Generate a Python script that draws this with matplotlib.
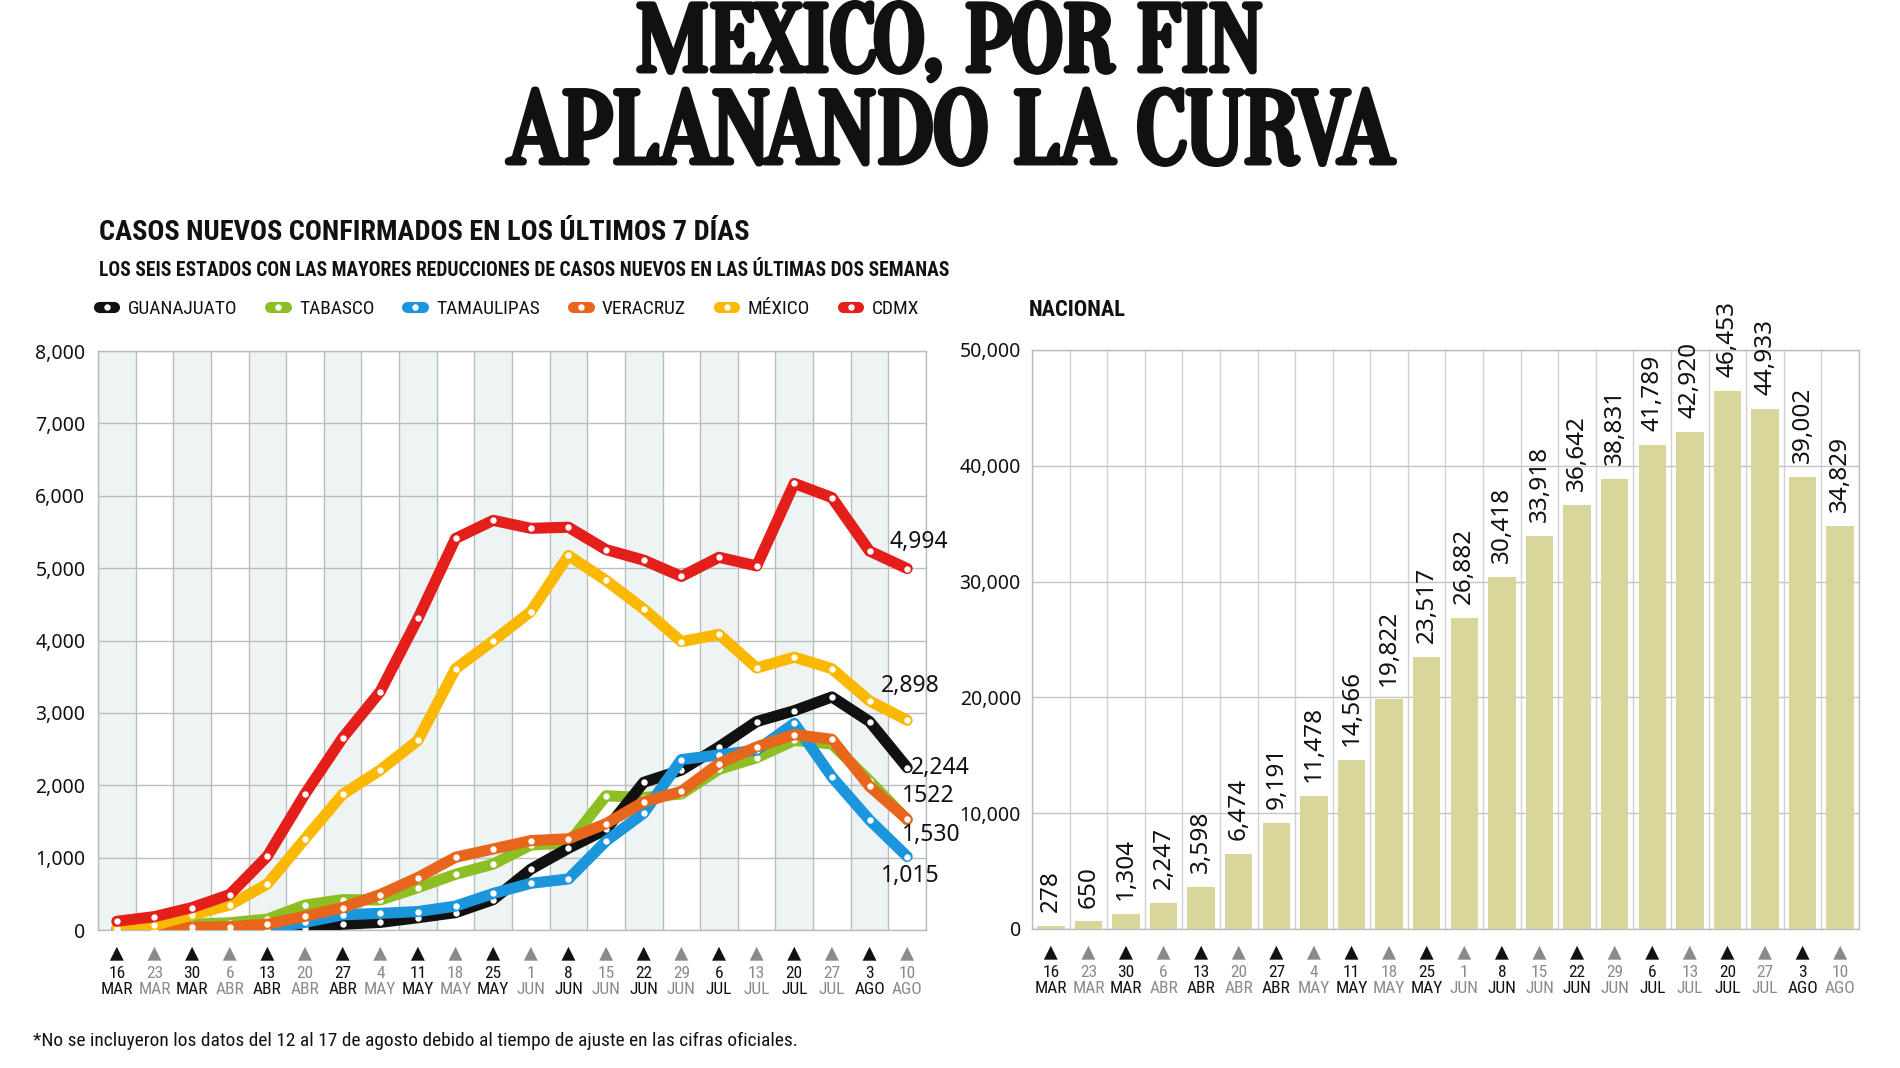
import os
import numpy as np
import matplotlib
matplotlib.use('Agg')
import matplotlib.pyplot as plt
import matplotlib.patheffects as pe
from matplotlib import font_manager as fm
from matplotlib.lines import Line2D
from matplotlib.transforms import blended_transform_factory

# ---------------- datos ----------------
dias = [16, 23, 30, 6, 13, 20, 27, 4, 11, 18, 25, 1, 8, 15, 22, 29, 6, 13, 20, 27, 3, 10]
meses = ['MAR', 'MAR', 'MAR', 'ABR', 'ABR', 'ABR', 'ABR', 'MAY', 'MAY', 'MAY', 'MAY',
         'JUN', 'JUN', 'JUN', 'JUN', 'JUN', 'JUL', 'JUL', 'JUL', 'JUL', 'AGO', 'AGO']

guanajuato = [0, 0, 0, 5, 10, 30, 80, 105, 170, 240, 420, 840, 1130, 1390, 2040, 2210,
              2530, 2880, 3030, 3220, 2880, 2244]
tabasco = [5, 15, 80, 100, 150, 345, 420, 415, 585, 770, 910, 1175, 1200, 1855, 1830, 1880,
           2220, 2380, 2620, 2570, 2060, 1522]
tamaulipas = [0, 0, 5, 10, 15, 105, 210, 230, 255, 330, 505, 645, 705, 1230, 1615, 2355,
              2420, 2485, 2855, 2115, 1520, 1015]
veracruz = [10, 25, 40, 45, 80, 190, 310, 490, 725, 1005, 1120, 1235, 1260, 1470, 1770, 1915,
            2300, 2530, 2700, 2635, 1985, 1530]
mexico = [30, 65, 210, 345, 635, 1260, 1875, 2210, 2620, 3610, 3995, 4400, 5175, 4830, 4435,
          3985, 4085, 3620, 3770, 3610, 3165, 2898]
cdmx = [120, 185, 310, 490, 1020, 1880, 2655, 3295, 4305, 5410, 5660, 5550, 5565, 5255, 5110,
        4885, 5150, 5030, 6170, 5975, 5235, 4994]

# etiqueta final de cada estado (tal cual aparece)
etiquetas_fin = {'GUANAJUATO': '2,244', 'TABASCO': '1522', 'TAMAULIPAS': '1,015',
                 'VERACRUZ': '1,530', 'MÉXICO': '2,898', 'CDMX': '4,994'}

nacional = [278, 650, 1304, 2247, 3598, 6474, 9191, 11478, 14566, 19822, 23517, 26882,
            30418, 33918, 36642, 38831, 41789, 42920, 46453, 44933, 39002, 34829]

# ---------------- fuentes ----------------
FILES = {}
for f in fm.fontManager.ttflist:
    FILES[os.path.splitext(os.path.basename(f.fname))[0].lower()] = f.fname


def font(names, **fallback):
    for n in names:
        if n.lower() in FILES:
            return fm.FontProperties(fname=FILES[n.lower()])
    return fm.FontProperties(**fallback)


TITLE = font(['Oranienbaum-Regular', 'StintUltraCondensed-Regular',
              'DejaVuSerifCondensed-Bold', 'LiberationSerif-Bold'],
             family='DejaVu Serif', weight='bold')
HEAD = font(['RobotoCondensed-ExtraBold', 'RobotoCondensed-Bold', 'NotoSans-CondensedBold',
             'DejaVuSansCondensed-Bold', 'LiberationSansNarrow-Bold'],
            family='DejaVu Sans', weight='bold')
COND = font(['RobotoCondensed-Regular', 'NotoSans-Condensed', 'DejaVuSansCondensed',
             'LiberationSansNarrow-Regular'], family='DejaVu Sans')
NUM = fm.FontProperties(family=['Noto Sans', 'DejaVu Sans'])

W, H = 1900, 1068
fig = plt.figure(figsize=(W / 100, H / 100), dpi=100)
fig.patch.set_facecolor('white')


def fx(px):
    return px / W


def fy(px):
    return 1 - px / H


GRID = '#b9bdc0'
NEGRO = '#111111'
GRIS = '#8a8a8a'
n = len(dias)
x = np.arange(n)
labels = [f'{d}\n{m}' for d, m in zip(dias, meses)]


def eje_fechas(ax):
    ax.set_xlim(-0.5, n - 0.5)
    ax.set_xticks(x)
    ax.set_xticklabels(labels, fontproperties=COND, linespacing=1.05)
    ax.set_xticks(np.arange(-0.5, n, 0.5), minor=True)
    ax.tick_params(axis='x', which='both', length=0, pad=26)
    for i, t in enumerate(ax.get_xticklabels()):
        t.set_color(NEGRO if i % 2 == 0 else GRIS)
        t.set_fontsize(12.5)
    tr = blended_transform_factory(ax.transData, ax.transAxes)
    cols = [NEGRO if i % 2 == 0 else GRIS for i in x]
    ax.scatter(x, np.full(n, -0.041), marker='^', s=100, c=cols, transform=tr,
               clip_on=False, linewidths=0)
    ax.grid(which='minor', axis='x', color=GRID, lw=1)
    ax.grid(which='major', axis='y', color=GRID, lw=1)
    ax.set_axisbelow(True)
    for s in ax.spines.values():
        s.set_color(GRID)
        s.set_linewidth(1)
    ax.tick_params(axis='y', length=0, colors=NEGRO)
    for t in ax.get_yticklabels():
        t.set_fontproperties(NUM)
        t.set_fontsize(14)


# ---------------- grafica izquierda ----------------
axl = fig.add_axes([fx(98), fy(930), fx(926 - 98), (930 - 351) / H])
for i in range(0, n, 2):
    axl.axvspan(i - 0.5, i + 0.5, color='#eef3f4', lw=0, zorder=0)

series = [('TABASCO', tabasco, '#8dbf25'), ('GUANAJUATO', guanajuato, '#111111'),
          ('TAMAULIPAS', tamaulipas, '#1b96dc'), ('VERACRUZ', veracruz, '#e8661b'),
          ('MÉXICO', mexico, '#fbb800'), ('CDMX', cdmx, '#e31e1b')]
colores = {k: c for k, v, c in series}
for k, v, c in series:
    axl.plot(x, v, color=c, lw=8, solid_capstyle='round', solid_joinstyle='round',
             marker='o', ms=4.6, mfc='white', mec='white', mew=0, zorder=3)

# desplazamiento (puntos) de cada etiqueta final respecto al último punto
offs = {'CDMX': (-13, 19), 'MÉXICO': (-19, 25), 'GUANAJUATO': (3, 0),
        'TABASCO': (-4, 17), 'VERACRUZ': (-4, -11), 'TAMAULIPAS': (-19, -14)}
for k, v, c in series:
    axl.annotate(etiquetas_fin[k], (x[-1], v[-1]), xytext=offs[k], textcoords='offset points',
                 ha='left', va='center', fontproperties=NUM, fontsize=16.5, color=NEGRO,
                 zorder=5)

axl.set_ylim(0, 8000)
axl.set_yticks(range(0, 8001, 1000))
axl.set_yticklabels([f'{v:,}' for v in range(0, 8001, 1000)])
axl.tick_params(axis='y', pad=9)
eje_fechas(axl)

# ---------------- grafica derecha ----------------
axr = fig.add_axes([fx(1032), fy(929), fx(1859 - 1032), (929 - 350) / H])
axr.bar(x, nacional, width=0.73, color='#d8d69b', zorder=2)
for i, v in enumerate(nacional):
    axr.annotate(f'{v:,}', (i, v), xytext=(0, 10), textcoords='offset points', rotation=90,
                 ha='center', va='bottom', fontproperties=NUM, fontsize=17.5, color=NEGRO)
axr.set_ylim(0, 50000)
axr.set_yticks(range(0, 50001, 10000))
axr.set_yticklabels([f'{v:,}' for v in range(0, 50001, 10000)])
axr.tick_params(axis='y', pad=8)
eje_fechas(axr)
axr.grid(which='minor', axis='x', color='#d0d0d0', lw=1)
axr.grid(which='major', axis='y', color='#c4c4c4', lw=1)

# ---------------- textos ----------------
grueso = [pe.withStroke(linewidth=5, foreground=NEGRO)]
t1 = fig.text(0.5, fy(70), 'MEXICO, POR FIN', ha='center', va='baseline',
              fontproperties=TITLE, fontsize=60, color=NEGRO, path_effects=grueso)
t2 = fig.text(0.5, fy(162), 'APLANANDO LA CURVA', ha='center', va='baseline',
              fontproperties=TITLE, fontsize=60, color=NEGRO, path_effects=grueso)
h1 = fig.text(fx(99), fy(240), 'CASOS NUEVOS CONFIRMADOS EN LOS ÚLTIMOS 7 DÍAS',
              ha='left', va='baseline', fontproperties=HEAD, fontsize=18, color=NEGRO)
h2 = fig.text(fx(99), fy(276),
              'LOS SEIS ESTADOS CON LAS MAYORES REDUCCIONES DE CASOS NUEVOS EN LAS ÚLTIMAS DOS SEMANAS',
              ha='left', va='baseline', fontproperties=HEAD, fontsize=13, color=NEGRO)
h3 = fig.text(fx(1029), fy(316), 'NACIONAL', ha='left', va='baseline',
              fontproperties=HEAD, fontsize=13, color=NEGRO)
nota = fig.text(fx(33), fy(1046),
                '*No se incluyeron los datos del 12 al 17 de agosto debido al tiempo de ajuste '
                'en las cifras oficiales.',
                ha='left', va='baseline', fontproperties=COND, fontsize=13, color=NEGRO)

fig.canvas.draw()
rend = fig.canvas.get_renderer()


def fit(t, w, k=1.0):
    for _ in range(2):
        cur = t.get_window_extent(rend).width
        t.set_fontsize(t.get_fontsize() * w / cur)
    t.set_fontsize(t.get_fontsize() * k)


fit(t1, 681, 0.92)
fit(t2, 960, 0.92)
fit(h1, 651)
fit(h2, 848)
fit(h3, 97)
fit(nota, 766)

# leyenda
orden = ['GUANAJUATO', 'TABASCO', 'TAMAULIPAS', 'VERACRUZ', 'MÉXICO', 'CDMX']
handles = [Line2D([], [], color=colores[k], lw=8, solid_capstyle='round', marker='o',
                  ms=4.6, mfc='white', mec='white', mew=0) for k in orden]


def leyenda(size):
    p = COND.copy()
    p.set_size(size)
    return axl.legend(handles, orden, loc='center left', ncol=6, frameon=False,
                      bbox_to_anchor=(fx(99), fy(309)), bbox_transform=fig.transFigure,
                      prop=p, handlelength=0.8, handletextpad=0.7, columnspacing=1.7,
                      borderpad=0, borderaxespad=0, numpoints=1)


size = 13
for _ in range(3):
    leg = leyenda(size)
    fig.canvas.draw()
    w = leg.get_window_extent(rend).width
    size = size * 818 / w
leg = leyenda(size)
for t in leg.get_texts():
    t.set_color(NEGRO)

fig.savefig('out.png', dpi=100, facecolor='white')
